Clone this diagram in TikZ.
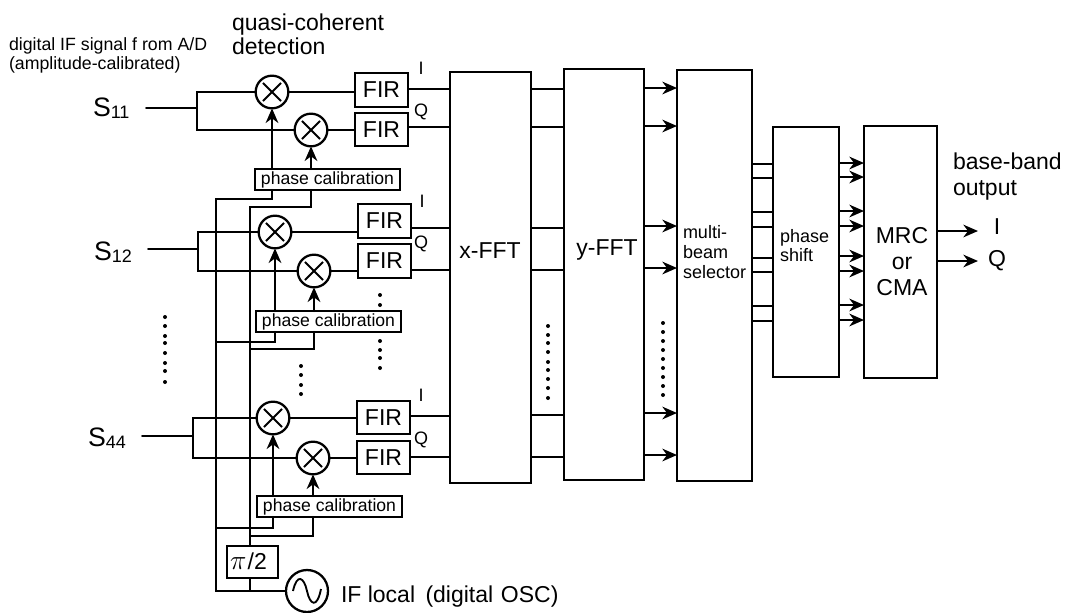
\documentclass[tikz,border=0pt]{standalone}
\usepackage{fontspec}
\setmainfont{Liberation Sans}
\usetikzlibrary{arrows.meta}
\newcommand{\fA}{\fontsize{17.25pt}{20pt}\selectfont}
\newcommand{\fB}{\fontsize{13.3pt}{15pt}\selectfont}
\newcommand{\fC}{\fontsize{13.2pt}{14.7pt}\selectfont}
\newcommand{\fD}{\fontsize{13.5pt}{15pt}\selectfont}
\newcommand{\sig}[2]{\fontsize{20pt}{22pt}\selectfont S\raisebox{-2.2pt}{\fontsize{13.5pt}{14pt}\selectfont #1#2}}
\tikzset{
  x=0.75pt,y=-0.75pt,
  wire/.style={line width=1.45pt,line cap=round},
  feed/.style={wire,-{Stealth[length=11pt,width=9.5pt,inset=3.5pt]}},
  blockbox/.style={draw,line width=1.7pt,inner sep=0pt,outer sep=0pt},
  firbox/.style={blockbox,minimum width=39.75pt,minimum height=25pt},
  calbox/.style={blockbox,minimum width=109pt,minimum height=15.5pt,font=\fC},
  mixer/.style={circle,draw,line width=1.7pt,inner sep=0pt,outer sep=0pt,minimum size=24.5pt,
    path picture={\draw[line width=1.4pt]
      ([xshift=-6.8pt,yshift=-6.8pt]path picture bounding box.center)--([xshift=6.8pt,yshift=6.8pt]path picture bounding box.center)
      ([xshift=-6.8pt,yshift=6.8pt]path picture bounding box.center)--([xshift=6.8pt,yshift=-6.8pt]path picture bounding box.center);}},
  txt/.style={inner sep=0pt,outer sep=0pt,anchor=base west},
  ctxt/.style={inner sep=0pt,outer sep=0pt,anchor=center},
  dotmark/.style={circle,fill=black,inner sep=0pt,minimum size=3pt}
}
\begin{document}
\begin{tikzpicture}
\useasboundingbox (0,0) rectangle (1065,612);
% large blocks
\node[blockbox,minimum width=60.75pt,minimum height=308.25pt] (xfft) at (490.5,277.5) {};
\node[blockbox,minimum width=60pt,minimum height=308.25pt] (yfft) at (604,274.5) {};
\node[blockbox,minimum width=56.25pt,minimum height=308.25pt] (sel) at (714.5,275.5) {};
\node[blockbox,minimum width=49.5pt,minimum height=187.5pt] (ps) at (806,252) {};
\node[blockbox,minimum width=54.75pt,minimum height=189pt] (mrc) at (900.5,252) {};
\node[ctxt,font=\fA] (xfftt) at (490,251) {x-FFT};
\node[ctxt,font=\fA] (yfftt) at (607,250) {y-FFT};
\node[txt,font=\fD] (selA) at (683,238.5) {multi-};
\node[txt,font=\fD] (selB) at (683,258.5) {beam};
\node[txt,font=\fD] (selC) at (683,278) {selector};
\node[txt,font=\fD] (psA) at (780,242) {phase};
\node[txt,font=\fD] (psB) at (780,261) {shift};
\node[ctxt,font=\fA] (mrcA) at (902,236) {MRC};
\node[ctxt,font=\fA] (mrcB) at (902,263) {or};
\node[ctxt,font=\fA] (mrcC) at (902,288) {CMA};
% FIR filters
\node[firbox] (fA) at (381.5,90) {\fA FIR};
\node[firbox] (fB) at (381.5,129.5) {\fA FIR};
\node[firbox] (fC) at (384.5,221) {\fA FIR};
\node[firbox] (fD) at (384.5,261) {\fA FIR};
\node[firbox] (fE) at (383.5,417.5) {\fA FIR};
\node[firbox] (fF) at (383.5,457.5) {\fA FIR};
% mixers
\node[mixer] (mA) at (272,92) {};
\node[mixer] (mB) at (311,130) {};
\node[mixer] (mC) at (275,232) {};
\node[mixer] (mD) at (314,271) {};
\node[mixer] (mE) at (273,418) {};
\node[mixer] (mF) at (313,458) {};
% phase calibration
\node[calbox] (pcA) at (327.5,179.5) {phase calibration};
\node[calbox] (pcB) at (328.5,321.5) {phase calibration};
\node[calbox] (pcC) at (329.5,506.5) {phase calibration};
% local oscillator and 90 degree shift
\node[blockbox,minimum width=38.25pt,minimum height=24pt] (pih) at (252.5,562) {};
\node[txt] (piht) at (230,569) {\fontsize{22pt}{22pt}\selectfont$\pi$\hspace{1pt}\fontsize{17.25pt}{20pt}\selectfont/2};
\node[circle,draw,line width=1.7pt,inner sep=0pt,outer sep=0pt,minimum size=31.5pt] (osc) at (307,591) {};
\draw[line width=1.4pt] (293,591) .. controls (297,573) and (304,577) .. (307,591) .. controls (310,605) and (317,609) .. (321,589);
\node[txt,font=\fA] (osct) at (341,602) {IF local\hspace{3pt} (digital\hspace{1pt} OSC)};
% input signals
\node[txt] (sA) at (93,116) {\sig 11};
\node[txt] (sB) at (94,260) {\sig 12};
\node[txt] (sC) at (88,446) {\sig 44};
\coordinate (forkA) at (197,108);
\coordinate (forkB) at (198,249);
\coordinate (forkC) at (193,436);
\coordinate (startA) at (146,108);
\coordinate (startB) at (148,249);
\coordinate (startC) at (142,436);
\draw[wire] (startA) -- (forkA);
\draw[wire] (startB) -- (forkB);
\draw[wire] (startC) -- (forkC);
\draw[wire] (mA.west) -| (forkA) |- (mB.west);
\draw[wire] (mC.west) -| (forkB) |- (mD.west);
\draw[wire] (mE.west) -| (forkC) |- (mF.west);
% mixer to FIR, FIR to x-FFT
\foreach \m/\f in {mA/fA,mB/fB,mC/fC,mD/fD,mE/fE,mF/fF}{
  \draw[wire] (\m.east) -- (\m.east -| \f.west);
}
\foreach \f/\y in {fA/89,fB/127,fC/228,fD/270,fE/416,fF/457}{
  \draw[wire] (\f.east |- 0,\y) -- (xfft.west |- 0,\y);
}
% FFT links
\foreach \y in {89,127,228,270,415,457}{
  \draw[wire] (xfft.east |- 0,\y) -- (yfft.west |- 0,\y);
}
\foreach \y in {88,126,226,268,413,455}{
  \draw[feed] (yfft.east |- 0,\y) -- (sel.west |- 0,\y);
}
\foreach \y in {164,178,212,227,258,272,306,321}{
  \draw[wire] (sel.east |- 0,\y) -- (ps.west |- 0,\y);
}
\foreach \y in {163,177,211,226,256,271,305,320}{
  \draw[feed] (ps.east |- 0,\y) -- (mrc.west |- 0,\y);
}
\coordinate (outI) at (978,231);
\coordinate (outQ) at (978,261);
\draw[feed] (mrc.east |- outI) -- (outI);
\draw[feed] (mrc.east |- outQ) -- (outQ);
% phase calibration to mixers
\draw[feed] (pcA.north -| mA) -- (mA.south);
\draw[feed] (pcA.north -| mB) -- (mB.south);
\draw[feed] (pcB.north -| mC) -- (mC.south);
\draw[feed] (pcB.north -| mD) -- (mD.south);
\draw[feed] (pcC.north -| mE) -- (mE.south);
\draw[feed] (pcC.north -| mF) -- (mF.south);
% local oscillator buses
\coordinate (busA) at (216,199);
\coordinate (busB) at (250,207);
\coordinate (busBend) at (250,591);
\draw[wire] (osc.west) -- (osc.west -| busA) -- (busA) -- (busA -| mA) -- (pcA.south -| mA);
\draw[wire] (pih.north -| busB) -- (busB) -- (busB -| mB) -- (pcA.south -| mB);
\draw[wire] (pih.south -| busB) -- (busBend);
\coordinate (tapC) at (216,342);
\coordinate (tapD) at (250,349);
\coordinate (tapE) at (216,528);
\coordinate (tapF) at (250,536);
\draw[wire] (tapC) -- (tapC -| mC) -- (pcB.south -| mC);
\draw[wire] (tapD) -- (tapD -| mD) -- (pcB.south -| mD);
\draw[wire] (tapE) -- (tapE -| mE) -- (pcC.south -| mE);
\draw[wire] (tapF) -- (tapF -| mF) -- (pcC.south -| mF);
% labels
\node[txt,font=\fB] (la) at (9,50) {digital IF signal f rom A/D};
\node[txt,font=\fB] (lb) at (9,69) {(amplitude-calibrated)};
\node[txt,font=\fA] (lc) at (232,30) {quasi-coherent};
\node[txt,font=\fA] (ld) at (232,54) {detection};
\node[txt,font=\fA] (le) at (953,169) {base-band};
\node[txt,font=\fA] (lf) at (953,195) {output};
\node[ctxt,font=\fA] (lg) at (997,227) {I};
\node[ctxt,font=\fA] (lh) at (997,261) {Q};
\foreach \n/\x/\y/\t in {iA/421/68/I,qA/421/112/Q,iB/422/201/I,qB/421/244/Q,iC/421/395/I,qC/421/440/Q}{
  \node[ctxt,font=\fD] (\n) at (\x,\y) {\t};
}
% dots
\foreach \y in {317,326,336,343,353,363,371,382}{\node[dotmark] at (165,\y) {};}
\foreach \y in {295,305,341,350,358,368}{\node[dotmark] at (380,\y) {};}
\foreach \y in {366,375,385,394}{\node[dotmark] at (301,\y) {};}
\foreach \y in {326,335,343,352,362,370,379,388,398}{\node[dotmark] at (548,\y) {};}
\foreach \y in {323,332,341,350,359,368,377,386,395}{\node[dotmark] at (663,\y) {};}
\end{tikzpicture}
\end{document}
